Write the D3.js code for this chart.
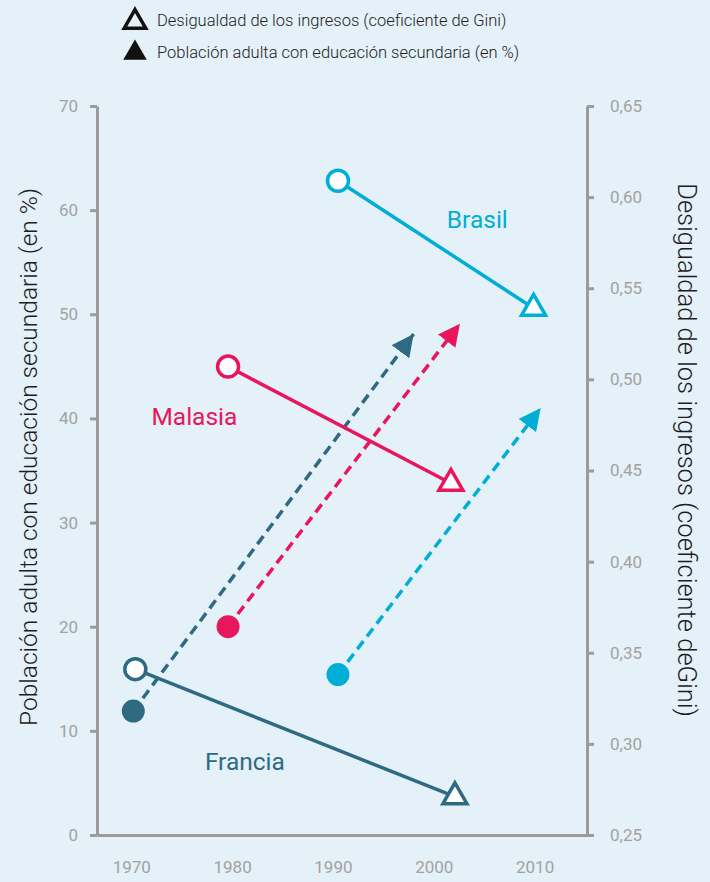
<!DOCTYPE html>
<html>
<head>
<meta charset="utf-8">
<script src="https://cdn.jsdelivr.net/npm/d3@7"></script>
<style>
  body { margin: 0; background: #e4f1f8; }
  #chart { width: 710px; height: 882px; }
  text { font-family: Roboto, "Noto Sans", sans-serif; }
</style>
</head>
<body>
<div id="chart"></div>
<script>
// data
var countries = ['Francia', 'Malasia', 'Brasil'];
var colors = ['#2e6b82', '#e8175d', '#00aed6'];

// Gini: start and end (year, value)
var giniStart = [[1970.4, 0.341], [1979.6, 0.507], [1990.5, 0.609]];
var giniEnd = [[2002.1, 0.271], [2001.7, 0.443], [2009.9, 0.539]];

// adult population with secondary education (%): start and arrow tip
var eduStart = [[1970.2, 11.9], [1979.6, 20.0], [1990.5, 15.4]];
var eduEnd = [[1998.0, 48.1], [2002.6, 49.1], [2010.6, 41.0]];

// label positions (year, %)
var labelPos = [[1977.3, 6.2], [1972.0, 39.4], [2001.3, 58.3]];

var eduTicks = [0, 10, 20, 30, 40, 50, 60, 70];
var giniTicks = [0.25, 0.30, 0.35, 0.40, 0.45, 0.50, 0.55, 0.60, 0.65];
var yearTicks = [1970, 1980, 1990, 2000, 2010];

var legendItems = ['Desigualdad de los ingresos (coeficiente de Gini)',
                   'Población adulta con educación secundaria (en %)'];

var width = 710, height = 882;
var margin = {t:106, r:123, b:47, l:97};

var svg = d3.select('#chart')
	.append('svg')
	.attr('width', width)
	.attr('height', height);

svg.append('rect')
	.attr('width', width)
	.attr('height', height)
	.style('fill', '#e4f1f8');

var x = d3.scaleLinear()
	.domain([1966.6, 2015.2])
	.range([margin.l, width - margin.r]);
var yEdu = d3.scaleLinear()
	.domain([0, 70])
	.range([height - margin.b, margin.t]);
var yGini = d3.scaleLinear()
	.domain([0.25, 0.65])
	.range([height - margin.b, margin.t]);

var es = d3.formatLocale({decimal: ',', thousands: '.', grouping: [3], currency: ['', '€']});

var axisColor = '#9b9b9b', labelColor = '#a2a2a2';

// axes
var gLeft = svg.append('g')
	.attr('transform', 'translate(' + margin.l + ',0)')
	.call(d3.axisLeft(yEdu).tickValues(eduTicks).tickSize(7).tickSizeOuter(0).tickPadding(12));
var gRight = svg.append('g')
	.attr('transform', 'translate(' + (width - margin.r) + ',0)')
	.call(d3.axisRight(yGini).tickValues(giniTicks).tickSize(7).tickSizeOuter(0).tickPadding(16)
		.tickFormat(es.format('.2f')));
var gBottom = svg.append('g')
	.attr('transform', 'translate(0,' + (height - margin.b) + ')')
	.call(d3.axisBottom(x).tickValues(yearTicks).tickSize(0).tickSizeOuter(0).tickPadding(26)
		.tickFormat(d3.format('d')));

[gLeft, gRight, gBottom].forEach(function(g){
	g.select('.domain').style('stroke', axisColor).style('stroke-width', 3);
	g.selectAll('.tick line').style('stroke', axisColor).style('stroke-width', 3);
	g.selectAll('.tick text')
		.style('fill', labelColor)
		.style('font-size', '17px')
		.style('font-weight', 400)
		.style('font-family', 'Roboto, sans-serif');
});

// axis titles
svg.append('text')
	.attr('transform', 'translate(37,' + 457 + ') rotate(-90)')
	.attr('text-anchor', 'middle')
	.style('font-size', '24.5px')
	.style('font-weight', 300)
	.style('fill', '#1c1c1c')
	.text('Población adulta con educación secundaria (en %)');

svg.append('text')
	.attr('transform', 'translate(678,' + 450 + ') rotate(90)')
	.attr('text-anchor', 'middle')
	.style('font-size', '25.5px')
	.style('font-weight', 300)
	.style('fill', '#1c1c1c')
	.text('Desigualdad de los ingresos (coeficiente deGini)');

// legend
var tri = d3.symbol().type(d3.symbolTriangle);
var legend = svg.append('g');
legendItems.forEach(function(t, i){
	var row = legend.append('g')
		.attr('transform', 'translate(135,' + (20 + i * 32) + ')');
	row.append('path')
		.attr('d', tri.size(i == 0 ? 200 : 240)())
		.attr('transform', 'translate(0,' + (i == 0 ? 2 : 1) + ')')
		.style('fill', i == 0 ? 'none' : '#111')
		.style('stroke', '#111')
		.style('stroke-width', i == 0 ? 3.5 : 0);
	row.append('text')
		.attr('x', 22)
		.attr('y', 6)
		.style('font-size', '16.5px')
		.style('font-weight', 300)
		.style('fill', '#222')
		.text(t);
});

// arrow markers
var defs = svg.append('defs');
countries.forEach(function(c, i){
	defs.append('marker')
		.attr('id', 'arrow-' + i)
		.attr('viewBox', '0 0 10 10')
		.attr('refX', 10)
		.attr('refY', 5)
		.attr('markerUnits', 'userSpaceOnUse')
		.attr('markerWidth', 22)
		.attr('markerHeight', 22)
		.attr('orient', 'auto')
		.append('path')
		.attr('d', 'M0,0 L10,5 L0,10 Z')
		.style('fill', colors[i]);
});

var plot = svg.append('g');

countries.forEach(function(c, i){
	var col = colors[i];

	// dashed education arrow
	plot.append('line')
		.attr('x1', x(eduStart[i][0]))
		.attr('y1', yEdu(eduStart[i][1]))
		.attr('x2', x(eduEnd[i][0]))
		.attr('y2', yEdu(eduEnd[i][1]))
		.style('stroke', col)
		.style('stroke-width', 3.5)
		.style('stroke-dasharray', '10,6')
		.attr('marker-end', 'url(#arrow-' + i + ')');

	plot.append('circle')
		.attr('cx', x(eduStart[i][0]))
		.attr('cy', yEdu(eduStart[i][1]))
		.attr('r', 11.5)
		.style('fill', col);
});

countries.forEach(function(c, i){
	var col = colors[i];

	// gini line
	plot.append('line')
		.attr('x1', x(giniStart[i][0]))
		.attr('y1', yGini(giniStart[i][1]))
		.attr('x2', x(giniEnd[i][0]))
		.attr('y2', yGini(giniEnd[i][1]))
		.style('stroke', col)
		.style('stroke-width', 3.5);

	plot.append('circle')
		.attr('cx', x(giniStart[i][0]))
		.attr('cy', yGini(giniStart[i][1]))
		.attr('r', 10.5)
		.style('fill', '#fff')
		.style('stroke', col)
		.style('stroke-width', 3.5);

	plot.append('path')
		.attr('d', tri.size(250)())
		.attr('transform', 'translate(' + x(giniEnd[i][0]) + ',' + yGini(giniEnd[i][1]) + ')')
		.style('fill', '#fff')
		.style('stroke', col)
		.style('stroke-width', 3.5);

	plot.append('text')
		.attr('x', x(labelPos[i][0]))
		.attr('y', yEdu(labelPos[i][1]))
		.style('font-size', '24.5px')
		.style('font-weight', 400)
		.style('fill', col)
		.text(c);
});
</script>
</body>
</html>
